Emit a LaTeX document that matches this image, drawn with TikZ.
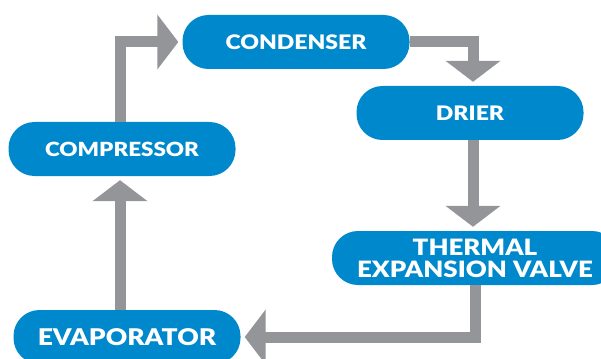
\documentclass[tikz,border=0pt]{standalone}
\usepackage{fontspec}
\setmainfont{Lato}[BoldFont={Lato Black}, BoldFeatures={FakeStretch=1.15}]
\definecolor{CycleBlue}{RGB}{0,136,204}
\definecolor{CycleGray}{RGB}{148,149,153}
\usetikzlibrary{arrows.meta, positioning}

\begin{document}
\begin{tikzpicture}[x=1pt, y=-1pt]
        % Refrigeration cycle
        \tikzset{
          part/.style={rectangle, rounded corners=26pt, fill=CycleBlue, text=white,
            minimum width=227pt, minimum height=54pt, inner sep=0pt,
            font=\fontsize{20}{19}\selectfont\bfseries, align=center},
          flow/.style={CycleGray, line width=11pt, line join=miter,
            -{Triangle[width=54pt, length=21pt]}, shorten >=4pt}
        }
        \useasboundingbox (0,0) rectangle (601,358);
        \clip (0,0) rectangle (601,358);

        % Parts
        \node[part] (condenser) at (296, 42) {CONDENSER};
        \node[part] (drier) at (470, 113) {DRIER};
        \node[part, font=\fontsize{19.5}{19}\selectfont\bfseries] (compressor) at (122, 149) {COMPRESSOR};
        \node[part, minimum width=286pt, font=\fontsize{22.5}{22}\selectfont\bfseries]
          (tev) at (475, 258) {THERMAL\\EXPANSION VALVE};
        \node[part, font=\fontsize{23}{22}\selectfont\bfseries]
          (evap) at (127, 337) {EVAPORATOR};

        % Flow
        \draw[flow] ([xshift=-2pt]compressor.north) |- (condenser.west);
        \draw[flow] (condenser.east) -| ([xshift=3pt]drier.north);
        \draw[flow] ([xshift=3pt]drier.south) -- ([xshift=3pt]drier.south |- tev.north);
        \draw[flow] (tev.south) |- (evap.east);
        \draw[flow] ([xshift=-7pt]evap.north) -- ([xshift=-7pt]evap.north |- compressor.south);
      \end{tikzpicture}
\end{document}
